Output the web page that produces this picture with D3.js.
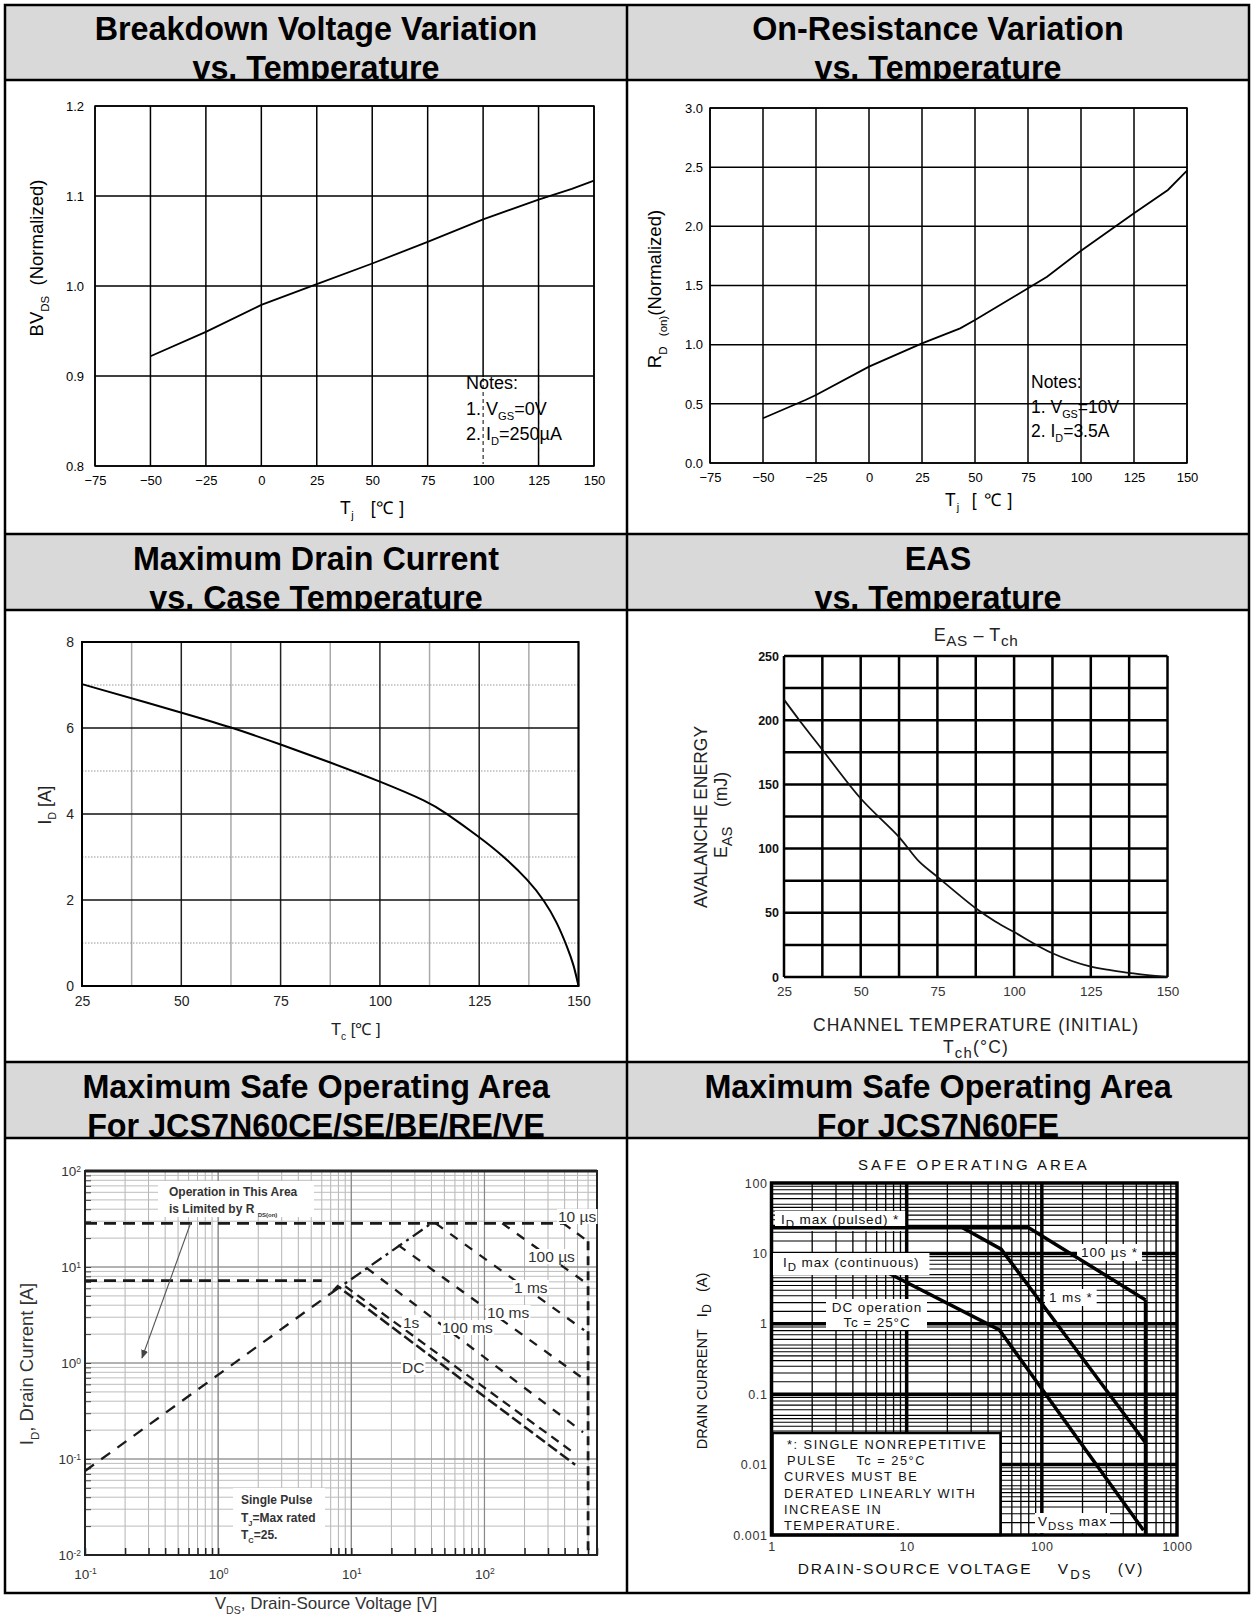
<!DOCTYPE html>
<html>
<head>
<meta charset="utf-8">
<script src="https://cdn.jsdelivr.net/npm/d3@7"></script>
<style>
body { margin: 0; background: #fff; }
svg { display: block; }
</style>
</head>
<body>
<script>
// ---- data ----
var titles = [
  ["Breakdown Voltage Variation", "vs. Temperature"],
  ["On-Resistance Variation", "vs. Temperature"],
  ["Maximum Drain Current", "vs. Case Temperature"],
  ["EAS", "vs. Temperature"],
  ["Maximum Safe Operating Area", "For JCS7N60CE/SE/BE/RE/VE"],
  ["Maximum Safe Operating Area", "For JCS7N60FE"]
];

var tempTicks = [-75, -50, -25, 0, 25, 50, 75, 100, 125, 150];

var bvTemp  = [-50, -25, 0, 25, 50, 75, 100, 125, 140, 150];
var bvValue = [0.922, 0.949, 0.979, 1.002, 1.025, 1.049, 1.074, 1.096, 1.108, 1.117];
var bvTicks = [0.8, 0.9, 1.0, 1.1, 1.2];

var rdsTemp  = [-50, -30, -25, 0, 25, 43, 50, 75, 84, 100, 125, 141, 150];
var rdsValue = [0.378, 0.532, 0.575, 0.814, 1.011, 1.138, 1.208, 1.476, 1.574, 1.794, 2.11, 2.307, 2.47];
var rdsTicks = [0, 0.5, 1.0, 1.5, 2.0, 2.5, 3.0];

var caseTemp     = [25, 50, 62.5, 75, 87.5, 100, 112.5, 116, 125, 131, 137.5, 141.5, 144.5, 147.3, 148.8, 150];
var drainCurrent = [7.02, 6.36, 6.02, 5.62, 5.2, 4.76, 4.27, 4.06, 3.47, 3.03, 2.45, 1.97, 1.5, 0.88, 0.49, 0];
var caseTicks    = [25, 50, 75, 100, 125, 150];
var caseMinor    = [37.5, 62.5, 87.5, 112.5, 137.5];
var currentTicks = [0, 2, 4, 6, 8];
var currentMinor = [1, 3, 5, 7];

var chTemp   = [25, 30, 37.5, 50, 62.5, 69, 75, 87.5, 94, 100, 112.5, 125, 131, 138, 150];
var easValue = [216, 200, 177, 139, 109, 90, 78, 53.5, 43, 35, 18.5, 8, 5.5, 3, 0];
var easXGrid  = [25, 37.5, 50, 62.5, 75, 87.5, 100, 112.5, 125, 137.5, 150];
var easXTicks = [25, 50, 75, 100, 125, 150];
var easYGrid  = [0, 25, 50, 75, 100, 125, 150, 175, 200, 225, 250];
var easYTicks = [0, 50, 100, 150, 200, 250];

// SOA, JCS7N60CE/SE/BE/RE/VE  (V in volts, I in amps)
var soaPulseV = [0.1, 390],      soaPulseI = [28.5, 28.5];
var soaContV  = [0.1, 6],        soaContI  = [7.2, 7.2];
var soaRdsLoV = [0.1, 7],        soaRdsLoI = [0.075, 5.3];
var soaRdsHiV = [7, 40],         soaRdsHiI = [5.3, 28.5];
var soa10usV  = [390, 600],      soa10usI  = [28.5, 18.5];
var soa100usV = [136, 580],      soa100usI = [28.5, 6.8];
var soa1msV   = [43, 560],       soa1msI   = [28.5, 2.2];
var soa10msV  = [22.5, 550],     soa10msI  = [16.9, 0.69];
var soa100msV = [13, 550],       soa100msI = [9.8, 0.19];
var soa1sV    = [9, 457],        soa1sI    = [6.3, 0.119];
var soaDcV    = [7.3, 7.9, 480], soaDcI    = [5.6, 6.3, 0.087];
var soaVdssV  = [600, 600],      soaVdssI  = [18.5, 0.01];

// SOA, JCS7N60FE
var fePulsedV = [1, 80, 585],         fePulsedI = [23.2, 23.2, 2.18];
var fe1msV    = [25.9, 50, 585],      fe1msI    = [23.2, 11.5, 0.0204];
var feDcV     = [1, 6.6, 48.5, 565],  feDcI     = [5.8, 5.8, 0.82, 0.00117];
var feVdssV   = [585, 585],           feVdssI   = [2.18, 0.001];

// ---- page ----
var FONT = "'Liberation Sans', Arial, sans-serif";
var NARROW = "'Liberation Sans Narrow', 'Liberation Sans', Arial, sans-serif";
var L = 5, R = 1249, M = 627;
var rowTops = [5, 534, 1062], hdrBottoms = [80, 610, 1138], tableBottom = 1593;

var svg = d3.select("body").append("svg")
  .attr("width", 1254).attr("height", 1616)
  .style("font-family", FONT);
svg.append("rect").attr("width", 1254).attr("height", 1616).attr("fill", "#fff");
var defs = svg.append("defs");
defs.append("marker").attr("id", "arrow")
  .attr("viewBox", "0 0 10 10").attr("refX", 9).attr("refY", 5)
  .attr("markerWidth", 8).attr("markerHeight", 8).attr("orient", "auto")
  .append("path").attr("d", "M0,1L10,5L0,9z").attr("fill", "#444");

// headers
rowTops.forEach(function(top, i) {
  svg.append("rect").attr("x", L).attr("y", top).attr("width", R - L)
    .attr("height", hdrBottoms[i] - top).attr("fill", "#d9d9d9");
  [[L, M], [M, R]].forEach(function(c, j) {
    var id = "hclip" + i + j;
    defs.append("clipPath").attr("id", id).append("rect")
      .attr("x", c[0]).attr("y", top).attr("width", c[1] - c[0]).attr("height", hdrBottoms[i] - top);
    var t = svg.append("g").attr("clip-path", "url(#" + id + ")").append("text")
      .attr("text-anchor", "middle").attr("font-weight", "bold").attr("font-size", 32.3);
    titles[i * 2 + j].forEach(function(s, k) {
      t.append("tspan").attr("x", (c[0] + c[1]) / 2)
        .attr("y", hdrBottoms[i] - 1 - 39 * (1 - k)).text(s);
    });
  });
});

// helpers
function rich(t, parts, size, subScale) {
  var shift = 0;
  subScale = subScale || 0.62;
  parts.forEach(function(p) {
    var target = p[1] * size * 0.3;
    var ts = t.append("tspan").text(p[0]).attr("dy", target - shift);
    if (p[1]) ts.attr("font-size", size * subScale);
    shift = target;
  });
  return t;
}

function label(g, x, y, parts, size, opts) {
  opts = opts || {};
  var t = g.append("text").attr("x", x).attr("y", y).attr("font-size", size)
    .attr("fill", opts.fill || "#000");
  if (opts.anchor) t.attr("text-anchor", opts.anchor);
  if (opts.weight) t.attr("font-weight", opts.weight);
  if (opts.family) t.attr("font-family", opts.family);
  if (opts.spacing) t.attr("letter-spacing", opts.spacing);
  if (opts.rotate) t.attr("transform", "rotate(-90," + x + "," + y + ")");
  rich(t, parts, size, opts.subScale);
  return t;
}

function whiteBox(g, t, px, py) {
  var b = t.node().getBBox();
  g.insert("rect", function() { return t.node(); })
    .attr("x", b.x - px).attr("y", b.y - py)
    .attr("width", b.width + 2 * px).attr("height", b.height + 2 * py)
    .attr("fill", "#fff");
}

function vlines(g, vals, x, y0, y1, color, width, dash) {
  g.append("g").selectAll("line").data(vals).join("line")
    .attr("x1", function(d) { return x(d); }).attr("x2", function(d) { return x(d); })
    .attr("y1", y0).attr("y2", y1)
    .attr("stroke", color).attr("stroke-width", width)
    .attr("stroke-dasharray", dash || null);
}

function hlines(g, vals, y, x0, x1, color, width, dash) {
  g.append("g").selectAll("line").data(vals).join("line")
    .attr("y1", function(d) { return y(d); }).attr("y2", function(d) { return y(d); })
    .attr("x1", x0).attr("x2", x1)
    .attr("stroke", color).attr("stroke-width", width)
    .attr("stroke-dasharray", dash || null);
}

function styleAxis(g, size, family, weight, color, spacing) {
  g.select(".domain").remove();
  g.attr("font-size", size).attr("font-family", family || null);
  if (weight) g.attr("font-weight", weight);
  if (spacing) g.attr("letter-spacing", spacing);
  g.selectAll("text").attr("fill", color || "#000");
}

function logGrid(lo, hi, mults) {
  var out = [];
  for (var e = Math.floor(Math.log10(lo)); e <= Math.ceil(Math.log10(hi)); e++) {
    mults.forEach(function(m) {
      var v = +(m * Math.pow(10, e)).toPrecision(6);
      if (v >= lo * 0.999 && v <= hi * 1.001) out.push(v);
    });
  }
  return out;
}

function pairs(a, b) { return d3.zip(a, b); }

// ---- panel 1: BVdss vs Tj ----
(function() {
  var g = svg.append("g");
  var x = d3.scaleLinear().domain([-75, 150]).range([95, 594]);
  var y = d3.scaleLinear().domain([0.8, 1.2]).range([466, 106]);
  vlines(g, tempTicks, x, 106, 466, "#000", 1.5);
  hlines(g, bvTicks, y, 95, 594, "#000", 1.5);
  // notes box
  g.append("rect").attr("x", 465).attr("y", 377).attr("width", 62).attr("height", 88).attr("fill", "#fff");
  vlines(g, [100, 125], x, 378, 464, "#000", 1, "4,3");
  g.append("rect").attr("x", 95).attr("y", 106).attr("width", 499).attr("height", 360)
    .attr("fill", "none").attr("stroke", "#000").attr("stroke-width", 1.5);
  g.append("path").datum(pairs(bvTemp, bvValue))
    .attr("d", d3.line().x(function(d) { return x(d[0]); }).y(function(d) { return y(d[1]); }))
    .attr("fill", "none").attr("stroke", "#000").attr("stroke-width", 1.8);
  var ya = g.append("g").attr("transform", "translate(95,0)")
    .call(d3.axisLeft(y).tickValues(bvTicks).tickFormat(d3.format(".1f")).tickSize(0).tickPadding(11));
  styleAxis(ya, 13);
  var xa = g.append("g").attr("transform", "translate(0,466)")
    .call(d3.axisBottom(x).tickValues(tempTicks).tickSize(0).tickPadding(10));
  styleAxis(xa, 13);
  label(g, 43, 258, [["BV", 0], ["DS", 1], ["\u00a0\u00a0(Normalized)", 0]], 18.5, { rotate: true, anchor: "middle" });
  label(g, 340, 514, [["T", 0], ["j", 1], ["\u00a0\u00a0\u00a0[\u2103 ]", 0]], 17.5, { spacing: 0.6 });
  label(g, 466, 389, [["Notes:", 0]], 18);
  label(g, 466, 415, [["1. V", 0], ["GS", 1], ["=0V", 0]], 18);
  label(g, 466, 440, [["2. I", 0], ["D", 1], ["=250\u00b5A", 0]], 18);
})();

// ---- panel 2: Rds(on) vs Tj ----
(function() {
  var g = svg.append("g");
  var x = d3.scaleLinear().domain([-75, 150]).range([710, 1187]);
  var y = d3.scaleLinear().domain([0, 3]).range([463, 108]);
  vlines(g, tempTicks, x, 108, 463, "#000", 1.5);
  hlines(g, rdsTicks, y, 710, 1187, "#000", 1.5);
  g.append("rect").attr("x", 710).attr("y", 108).attr("width", 477).attr("height", 355)
    .attr("fill", "none").attr("stroke", "#000").attr("stroke-width", 1.5);
  g.append("path").datum(pairs(rdsTemp, rdsValue))
    .attr("d", d3.line().x(function(d) { return x(d[0]); }).y(function(d) { return y(d[1]); }))
    .attr("fill", "none").attr("stroke", "#000").attr("stroke-width", 1.8);
  var ya = g.append("g").attr("transform", "translate(710,0)")
    .call(d3.axisLeft(y).tickValues(rdsTicks).tickFormat(d3.format(".1f")).tickSize(0).tickPadding(7));
  styleAxis(ya, 13);
  var xa = g.append("g").attr("transform", "translate(0,463)")
    .call(d3.axisBottom(x).tickValues(tempTicks).tickSize(0).tickPadding(10));
  styleAxis(xa, 13);
  label(g, 661, 289, [["R", 0], ["D", 1], ["\u00a0\u00a0", 0], ["(on)", 1], ["(Normalized)", 0]], 18.5, { rotate: true, anchor: "middle" });
  label(g, 945, 506, [["T", 0], ["j", 1], ["\u00a0\u00a0[ \u2103 ]", 0]], 17.5, { spacing: 1 });
  label(g, 1031, 388, [["Notes:", 0]], 17.5);
  label(g, 1031, 413, [["1. V", 0], ["GS", 1], ["=10V", 0]], 17.5);
  label(g, 1031, 437, [["2. I", 0], ["D", 1], ["=3.5A", 0]], 17.5);
})();

// ---- panel 3: Id vs Tc ----
(function() {
  var g = svg.append("g");
  var x = d3.scaleLinear().domain([25, 150]).range([82, 578.5]);
  var y = d3.scaleLinear().domain([0, 8]).range([986, 642]);
  vlines(g, caseMinor, x, 642, 986, "#aaa", 1.5);
  hlines(g, currentMinor, y, 82, 578.5, "#999", 1, "1.5,1.5");
  vlines(g, caseTicks, x, 642, 986, "#222", 1.5);
  hlines(g, currentTicks, y, 82, 578.5, "#111", 1.5);
  g.append("rect").attr("x", 82).attr("y", 642).attr("width", 496.5).attr("height", 344)
    .attr("fill", "none").attr("stroke", "#000").attr("stroke-width", 2);
  g.append("path").datum(pairs(caseTemp, drainCurrent))
    .attr("d", d3.line().curve(d3.curveBasis).x(function(d) { return x(d[0]); }).y(function(d) { return y(d[1]); }))
    .attr("fill", "none").attr("stroke", "#000").attr("stroke-width", 2);
  var ya = g.append("g").attr("transform", "translate(82,0)")
    .call(d3.axisLeft(y).tickValues(currentTicks).tickSize(0).tickPadding(8));
  styleAxis(ya, 14, NARROW, null, "#222");
  var xa = g.append("g").attr("transform", "translate(0,986)")
    .call(d3.axisBottom(x).tickValues(caseTicks).tickSize(0).tickPadding(10));
  styleAxis(xa, 14, NARROW, null, "#222");
  label(g, 51, 805, [["I", 0], ["D", 1], [" [A]", 0]], 17.5, { rotate: true, anchor: "middle", fill: "#222" });
  label(g, 331, 1035, [["T", 0], ["c", 1], [" [\u2103 ]", 0]], 16.5, { fill: "#222" });
})();

// ---- panel 4: EAS vs Tch ----
(function() {
  var g = svg.append("g");
  var x = d3.scaleLinear().domain([25, 150]).range([784, 1167.5]);
  var y = d3.scaleLinear().domain([0, 250]).range([977, 656]);
  vlines(g, easXGrid, x, 656, 977, "#000", 2.5);
  hlines(g, easYGrid, y, 784, 1167.5, "#000", 2.5);
  g.append("path").datum(pairs(chTemp, easValue))
    .attr("d", d3.line().curve(d3.curveCatmullRom.alpha(0.5)).x(function(d) { return x(d[0]); }).y(function(d) { return y(d[1]); }))
    .attr("fill", "none").attr("stroke", "#111").attr("stroke-width", 1.8);
  var ya = g.append("g").attr("transform", "translate(784,0)")
    .call(d3.axisLeft(y).tickValues(easYTicks).tickSize(0).tickPadding(5));
  styleAxis(ya, 12.5, null, "bold", "#111");
  var xa = g.append("g").attr("transform", "translate(0,977)")
    .call(d3.axisBottom(x).tickValues(easXTicks).tickSize(0).tickPadding(9));
  styleAxis(xa, 13.5, null, null, "#333");
  label(g, 976, 641, [["E", 0], ["AS", 1], [" \u2013 T", 0], ["ch", 1]], 18, { anchor: "middle", fill: "#222", subScale: 0.85, spacing: 0.6 });
  label(g, 976, 1031, [["CHANNEL TEMPERATURE (INITIAL)", 0]], 17.5, { anchor: "middle", fill: "#222", spacing: 1.1 });
  label(g, 976, 1053, [["T", 0], ["ch", 1], ["(\u00b0C)", 0]], 17.5, { anchor: "middle", fill: "#222", subScale: 0.85, spacing: 1.2 });
  label(g, 707, 817, [["AVALANCHE ENERGY", 0]], 17.5, { rotate: true, anchor: "middle", fill: "#222" });
  label(g, 727, 815, [["E", 0], ["AS", 1], ["\u00a0\u00a0\u00a0\u00a0(mJ)", 0]], 17.5, { rotate: true, anchor: "middle", fill: "#222", subScale: 0.85 });
})();

// ---- panel 5: SOA JCS7N60CE/SE/BE/RE/VE ----
(function() {
  var g = svg.append("g");
  var x = d3.scaleLog().domain([0.1, 700]).range([85, 597]);
  var y = d3.scaleLog().domain([0.01, 100]).range([1555, 1171]);
  var xAll = logGrid(0.1, 700, [1, 2, 3, 4, 5, 6, 7, 8, 9]);
  var yAll = logGrid(0.01, 100, [1, 2, 3, 4, 5, 6, 7, 8, 9]);
  var xDec = [0.1, 1, 10, 100], yDec = [0.01, 0.1, 1, 10, 100];
  vlines(g, xAll, x, 1171, 1555, "#b4b4b4", 1);
  hlines(g, yAll, y, 85, 597, "#bdbdbd", 1);
  vlines(g, xDec, x, 1171, 1555, "#888", 1.2);
  hlines(g, yDec, y, 85, 597, "#888", 1.2);
  var bt = g.append("g").attr("transform", "translate(0,1555)")
    .call(d3.axisBottom(x).tickValues(xAll).tickSize(-7).tickFormat(""));
  bt.select(".domain").remove();
  bt.selectAll("line").attr("stroke", "#222").attr("stroke-width", 1.5);
  var lt = g.append("g").attr("transform", "translate(85,0)")
    .call(d3.axisLeft(y).tickValues(yAll).tickSize(-6).tickFormat(""));
  lt.select(".domain").remove();
  lt.selectAll("line").attr("stroke", "#444");
  g.append("rect").attr("x", 85).attr("y", 1171).attr("width", 512).attr("height", 384)
    .attr("fill", "none").attr("stroke", "#222").attr("stroke-width", 2);
  g.append("line").attr("x1", 85).attr("x2", 597).attr("y1", 1171).attr("y2", 1171)
    .attr("stroke", "#222").attr("stroke-width", 3);

  var line = d3.line().x(function(d) { return x(d[0]); }).y(function(d) { return y(d[1]); });
  function draw(v, i, width, dash) {
    g.append("path").datum(pairs(v, i)).attr("d", line)
      .attr("fill", "none").attr("stroke", "#1a1a1a").attr("stroke-width", width)
      .attr("stroke-dasharray", dash);
  }
  draw(soaPulseV, soaPulseI, 2.8, "12,7");
  draw(soaContV, soaContI, 2.8, "12,7");
  draw(soaRdsLoV, soaRdsLoI, 2.3, "11,9");
  draw(soaRdsHiV, soaRdsHiI, 2.3, "12,5,3,5");
  draw(soa10usV, soa10usI, 2.3, "9,8");
  draw(soa100usV, soa100usI, 2.3, "9,9");
  draw(soa1msV, soa1msI, 2.3, "9,9");
  draw(soa10msV, soa10msI, 2.3, "9,9");
  draw(soa100msV, soa100msI, 2.3, "9,9");
  draw(soa1sV, soa1sI, 2.3, "9,6");
  draw(soaDcV, soaDcI, 2.5, "11,4");
  draw(soaVdssV, soaVdssI, 2.8, "9,6");

  // tick labels
  var ya = g.append("g").attr("transform", "translate(85,0)")
    .call(d3.axisLeft(y).tickValues(yDec).tickSize(0).tickPadding(4).tickFormat(function() { return "10"; }));
  styleAxis(ya, 13.5, null, null, "#333");
  ya.selectAll(".tick text").append("tspan").attr("dy", "-0.5em").attr("font-size", 8.5)
    .text(function(d) { return Math.round(Math.log10(d)); });
  var xa = g.append("g").attr("transform", "translate(0,1555)")
    .call(d3.axisBottom(x).tickValues(xDec).tickSize(0).tickPadding(14).tickFormat(function() { return "10"; }));
  styleAxis(xa, 13.5, null, null, "#333");
  xa.selectAll(".tick text").append("tspan").attr("dy", "-0.5em").attr("font-size", 8.5)
    .text(function(d) { return Math.round(Math.log10(d)); });

  label(g, 33, 1364, [["I", 0], ["D", 1], [", Drain Current [A]", 0]], 18.5, { rotate: true, anchor: "middle", fill: "#333" });
  label(g, 326, 1609, [["V", 0], ["DS", 1], [", Drain-Source Voltage [V]", 0]], 17, { anchor: "middle", fill: "#333" });

  // annotations
  g.append("rect").attr("x", 158).attr("y", 1181).attr("width", 156).attr("height", 36).attr("fill", "#fff");
  label(g, 169, 1196, [["Operation in This Area", 0]], 12, { weight: "bold", fill: "#333" });
  label(g, 169, 1213, [["is Limited by R ", 0], ["DS(on)", 1]], 12, { weight: "bold", fill: "#333", subScale: 0.5 });
  g.append("line").attr("x1", 191).attr("y1", 1222).attr("x2", 142).attr("y2", 1358)
    .attr("stroke", "#555").attr("stroke-width", 1.1).attr("marker-end", "url(#arrow)");

  g.append("rect").attr("x", 233).attr("y", 1488).attr("width", 92).attr("height", 66).attr("fill", "#fff");
  label(g, 241, 1504, [["Single Pulse", 0]], 12, { weight: "bold", fill: "#333" });
  label(g, 241, 1522, [["T", 0], ["J", 1], ["=Max rated", 0]], 12, { weight: "bold", fill: "#333" });
  label(g, 241, 1539, [["T", 0], ["C", 1], ["=25.", 0]], 12, { weight: "bold", fill: "#333" });

  var tags = [
    ["10 \u00b5s", 558, 1222], ["100 \u00b5s", 528, 1262], ["1 ms", 514, 1293],
    ["10 ms", 487, 1318], ["100 ms", 442, 1333], ["1s", 403, 1328], ["DC", 402, 1373]
  ];
  tags.forEach(function(t) {
    var tx = label(g, t[1], t[2], [[t[0], 0]], 15.5, { fill: "#333" });
    whiteBox(g, tx, 1, -1);
  });
})();

// ---- panel 6: SOA JCS7N60FE ----
(function() {
  var g = svg.append("g");
  var x = d3.scaleLog().domain([1, 1000]).range([771.5, 1177]);
  var y = d3.scaleLog().domain([0.001, 100]).range([1535, 1183]);
  var xMinor = logGrid(1, 1000, [2, 3, 4, 5, 6, 7, 8, 9]);
  var yMinor = logGrid(0.001, 100, [1.5, 2, 2.5, 3, 3.5, 4, 4.5, 5, 6, 7, 8, 9]);
  vlines(g, xMinor, x, 1183, 1535, "#000", 1.3);
  hlines(g, yMinor, y, 771.5, 1177, "#000", 1.1);
  vlines(g, [10, 100], x, 1183, 1535, "#000", 3.5);
  hlines(g, [0.01, 0.1, 1, 10], y, 771.5, 1177, "#000", 3.5);

  // note box
  g.append("rect").attr("x", 772.5).attr("y", 1433).attr("width", 228).attr("height", 102)
    .attr("fill", "#fff").attr("stroke", "#000").attr("stroke-width", 2.5);
  var note = ["*: SINGLE NONREPETITIVE", " PULSE\u00a0\u00a0\u00a0 Tc = 25\u00b0C", "CURVES MUST BE",
              "DERATED LINEARLY WITH", "INCREASE IN", "TEMPERATURE."];
  note.forEach(function(s, k) {
    label(g, k < 2 ? 787 : 784, 1449 + 16.2 * k, [[s, 0]], 12.8, { fill: "#111", spacing: 1.5 });
  });

  g.append("rect").attr("x", 771.5).attr("y", 1183).attr("width", 405.5).attr("height", 352)
    .attr("fill", "none").attr("stroke", "#000").attr("stroke-width", 3.5);

  var line = d3.line().x(function(d) { return x(d[0]); }).y(function(d) { return y(d[1]); });
  [[feDcV, feDcI], [feVdssV, feVdssI]].forEach(function(s) {
    g.append("path").datum(pairs(s[0], s[1])).attr("d", line)
      .attr("fill", "none").attr("stroke", "#000").attr("stroke-width", 3.5);
  });

  // labels on white
  var lo = { fill: "#111", subScale: 0.85, spacing: 0.9 };
  var t1 = label(g, 781, 1224, [["I", 0], ["D", 1], [" max (pulsed) *", 0]], 13.5, lo);
  whiteBox(g, t1, 6, 1);
  var t2 = label(g, 783, 1267, [["I", 0], ["D", 1], [" max (continuous)", 0]], 13.5, lo);
  whiteBox(g, t2, 10, 2);
  var t3 = label(g, 1081, 1257, [["100 \u00b5s *", 0]], 13.5, lo);
  whiteBox(g, t3, 4, 1);
  var t4 = label(g, 1049, 1302, [["1 ms *", 0]], 13.5, lo);
  whiteBox(g, t4, 4, 1);
  g.append("rect").attr("x", 826).attr("y", 1299).attr("width", 101).attr("height", 31).attr("fill", "#fff");
  label(g, 877, 1312, [["DC operation", 0]], 13.5, { anchor: "middle", fill: "#111", spacing: 0.9 });
  label(g, 877, 1327, [["Tc = 25\u00b0C", 0]], 13.5, { anchor: "middle", fill: "#111", spacing: 0.9 });
  var t5 = label(g, 1038, 1526, [["V", 0], ["DSS", 1], [" max", 0]], 13.5, lo);
  whiteBox(g, t5, 3, 1);

  // pulsed-limit curves over the labels
  [[fePulsedV, fePulsedI], [fe1msV, fe1msI]].forEach(function(s) {
    g.append("path").datum(pairs(s[0], s[1])).attr("d", line)
      .attr("fill", "none").attr("stroke", "#000").attr("stroke-width", 3.5);
  });

  var ya = g.append("g").attr("transform", "translate(771.5,0)")
    .call(d3.axisLeft(y).tickValues([0.001, 0.01, 0.1, 1, 10, 100]).tickSize(0).tickPadding(4)
      .tickFormat(function(d) { return String(d); }));
  styleAxis(ya, 12.5, null, null, "#333", 0.6);
  var xa = g.append("g").attr("transform", "translate(0,1535)")
    .call(d3.axisBottom(x).tickValues([1, 10, 100, 1000]).tickSize(0).tickPadding(7)
      .tickFormat(function(d) { return String(d); }));
  styleAxis(xa, 12.5, null, null, "#333", 0.6);

  label(g, 974, 1170, [["SAFE OPERATING AREA", 0]], 15, { anchor: "middle", fill: "#111", spacing: 3 });
  label(g, 971, 1574, [["DRAIN-SOURCE VOLTAGE\u00a0\u00a0\u00a0\u00a0V", 0], ["DS", 1], ["\u00a0\u00a0\u00a0\u00a0(V)", 0]], 15.5,
    { anchor: "middle", fill: "#111", spacing: 2, subScale: 0.85 });
  label(g, 707, 1361, [["DRAIN CURRENT\u00a0\u00a0\u00a0I", 0], ["D", 1], ["\u00a0\u00a0\u00a0(A)", 0]], 14.5,
    { anchor: "middle", rotate: true, fill: "#111", subScale: 0.85 });
})();

// table borders on top
var border = svg.append("g").attr("stroke", "#000").attr("stroke-width", 2.5).attr("fill", "none");
border.append("rect").attr("x", L).attr("y", 5).attr("width", R - L).attr("height", tableBottom - 5);
border.append("line").attr("x1", M).attr("x2", M).attr("y1", 5).attr("y2", tableBottom);
[80, 534, 610, 1062, 1138].forEach(function(yy) {
  border.append("line").attr("x1", L).attr("x2", R).attr("y1", yy).attr("y2", yy);
});
</script>
</body>
</html>
